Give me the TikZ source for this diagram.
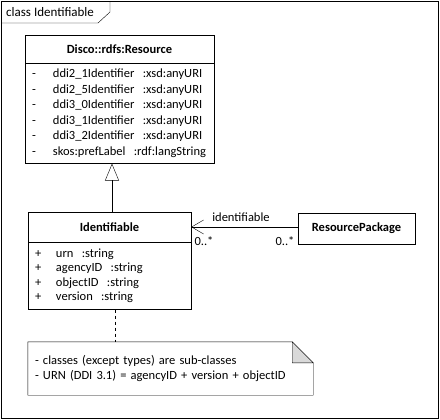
\documentclass[tikz,border=0pt]{standalone}
\usepackage{fontspec}
\setmainfont{Carlito}
\usetikzlibrary{arrows.meta}
\usetikzlibrary{positioning}

\newcommand{\vis}[1]{\makebox[21pt][l]{#1}}

\begin{document}
\begin{tikzpicture}[x=1pt, y=-1pt,
  every node/.style={inner sep=0pt, font=\fontsize{12.5}{15.5}\selectfont},
  classhead/.style={draw, font=\fontsize{12.5}{15.5}\selectfont\bfseries},
  classbody/.style={draw, align=left, inner xsep=7pt},
  gen/.style={-{Triangle[open, length=17pt, width=14pt]}},
  assoc/.style={-{Straight Barb[length=12pt, width=14pt]}}]
\useasboundingbox (0,0) rectangle (440,420);

% frame
\draw (1.5,1.5) rectangle (438.5,418.5);
\draw (1.5,23) -- (98,23) -- (110,12) -- (110,1.5);
\node[anchor=west, font=\fontsize{13}{15.6}\selectfont] (frameLabel) at (6,12) {class Identifiable};

% classes
\node[classhead, minimum width=189, minimum height=28] (resHead) at (119.5,49) {Disco::rdfs:Resource};
\node[classbody, below=0pt of resHead, minimum width=189, minimum height=100, text width=175] (resBody) {%
  \vis{-}ddi2\_1Identifier\ \ :xsd:anyURI\\
  \vis{-}ddi2\_5Identifier\ \ :xsd:anyURI\\
  \vis{-}ddi3\_0Identifier\ \ :xsd:anyURI\\
  \vis{-}ddi3\_1Identifier\ \ :xsd:anyURI\\
  \vis{-}ddi3\_2Identifier\ \ :xsd:anyURI\\
  \vis{-}skos:prefLabel\ \ :rdf:langString};

\node[classhead, minimum width=163, minimum height=30] (idHead) at (109.5,227) {Identifiable};
\node[classbody, below=0pt of idHead, minimum width=163, minimum height=67, text width=149,
  font=\fontsize{12.5}{14.3}\selectfont] (idBody) {%
  \vis{+}urn\ \ :string\\
  \vis{+}agencyID\ \ :string\\
  \vis{+}objectID\ \ :string\\
  \vis{+}version\ \ :string};

\node[classhead, minimum width=117, minimum height=31] (resPackage) at (356.5,228.5) {ResourcePackage};

% note
\node[align=left, minimum width=285, minimum height=53, text width=271] (note) at (170.5,368.5) {%
  - classes (except types) are sub-classes\\
  - URN (DDI 3.1) = agencyID + version + objectID};
\draw (note.north west) -- ([xshift=-21pt]note.north east) -- ([yshift=-21pt]note.north east)
  -- (note.south east) -- (note.south west) -- cycle;
\draw[fill=black!15] ([xshift=-21pt]note.north east) -- ([yshift=-21pt]note.north east)
  -- ([xshift=-21pt, yshift=-21pt]note.north east) -- cycle;

% connectors
\draw[gen] ([xshift=2.5pt]idHead.north) -- ([xshift=2.5pt]idHead.north |- resBody.south);
\draw[assoc] (resPackage.west |- 0,227) -- (idHead.east |- 0,227);
\node (assocName) at (241,217) {identifiable};
\node (multId) at (204,241) {0..*};
\node (multPkg) at (285,241) {0..*};
\draw[dashed, dash pattern=on 3pt off 3pt] ([xshift=5.5pt]idBody.south) -- ([xshift=5.5pt]idBody.south |- note.north);
\end{tikzpicture}
\end{document}
